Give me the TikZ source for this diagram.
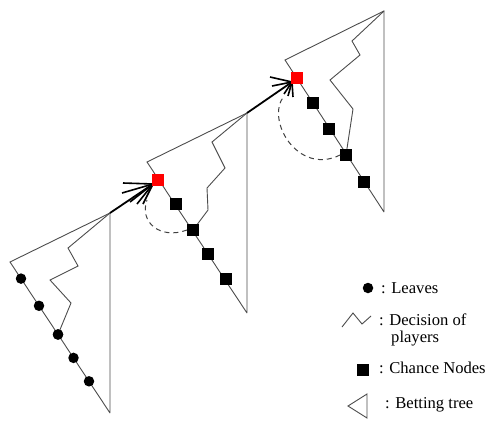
\documentclass[tikz,border=0pt]{standalone}
\usepackage{fontspec}
\setmainfont{Liberation Serif}
\usetikzlibrary{calc}
\begin{document}
\begin{tikzpicture}[x=1pt,y=-1pt,
  thin line/.style={draw=black!70,line width=0.9pt,line join=miter},
  thick arrow/.style={draw=black,line width=1.8pt},
  fan/.style={draw=black,line width=1.6pt},
  leaf/.style={circle,fill=black,inner sep=0pt,minimum size=10.5pt},
  chance/.style={rectangle,fill=black,inner sep=0pt,minimum size=11.5pt},
  red node/.style={rectangle,fill=red,inner sep=0pt,minimum size=12pt},
  dashline/.style={draw=black!75,line width=1pt,dash pattern=on 5pt off 4pt},
  legtext/.style={anchor=west,font=\fontsize{16.6}{18}\selectfont,inner sep=0pt}]
\useasboundingbox (0,0) rectangle (486,423);

% ---------- Tree 1 ----------
\coordinate (A1) at (110,213);
\coordinate (L1) at (10,262);
\coordinate (B1) at (110,413);
\draw[thin line] (B1) -- (A1) -- (L1) -- (B1);
\node[leaf] (l1) at ($(L1)!0.11!(B1)$) {};
\node[leaf] (l2) at ($(L1)!0.29!(B1)$) {};
\node[leaf] (l3) at ($(L1)!0.48!(B1)$) {};
\node[leaf] (l4) at ($(L1)!0.635!(B1)$) {};
\node[leaf] (l5) at ($(L1)!0.79!(B1)$) {};
\draw[thin line] (A1) -- (68,248) -- (78,266) -- (50,280) -- (71,303) -- (l3.center);
\node[leaf] at (l3) {};

% ---------- Tree 2 ----------
\coordinate (A2) at (247,113);
\coordinate (L2) at (147,162);
\coordinate (B2) at (247,313);
\draw[thin line] (B2) -- (A2) -- (L2) -- (B2);
\node[chance] (c21) at (176,204) {};
\node[chance] (c22) at (193,230) {};
\node[chance] (c23) at (208,254) {};
\node[chance] (c24) at (226,279) {};
\draw[thin line] (A2) -- (212,142) -- (225,168) -- (207,188) -- (208,210) -- (c22.center);
\node[chance] at (c22) {};
\draw[dashline] (c22.west) .. controls (160,240) and (139,222) .. (147,200);

% fan and thick arrow into tree 2
\coordinate (F2) at (153,184);
\draw[thick arrow] (A1) -- (F2);
\draw[fan] (F2) -- (123,183);
\draw[fan] (F2) -- (122,193);
\draw[fan] (F2) -- (130,202);
\draw[fan] (F2) -- (137,204);
\draw[fan] (F2) -- (143,204);
\node[red node] (r2) at (158,180) {};

% ---------- Tree 3 ----------
\coordinate (A3) at (384,11);
\coordinate (L3) at (285,60);
\coordinate (B3) at (384,212);
\draw[thin line] (B3) -- (A3) -- (L3) -- (B3);
\node[chance] (c31) at (313,103) {};
\node[chance] (c32) at (329,129) {};
\node[chance] (c33) at (346,155) {};
\node[chance] (c34) at (364,182) {};
\draw[thin line] (A3) -- (352,41) -- (360,55) -- (330,80) -- (353,109) -- (c33.center);
\node[chance] at (c33) {};
\draw[dashline] (c33.west) .. controls (298,176) and (265,120) .. (284,96);

% fan and thick arrow into tree 3
\coordinate (F3) at (292,82);
\draw[thick arrow] (A2) -- (F3);
\draw[fan] (F3) -- (270,77);
\draw[fan] (F3) -- (272,86);
\draw[fan] (F3) -- (284,94);
\draw[fan] (F3) -- (288,96);
\draw[fan] (F3) -- (293,97);
\node[red node] (r3) at (297,78) {};

% ---------- Legend ----------
\node[leaf] (kleaf) at (368,288) {};
\node[legtext] (tleaf) at (381,288) {: Leaves};
\draw[thin line] (342,327) -- (353,313) -- (362,324) -- (371,316);
\node[legtext,align=left,anchor=north west] (tdec) at (379,314) {: Decision of\\[-1pt]\hspace{12pt}players};
\node[chance] (kchance) at (363,370) {};
\node[legtext] (tchance) at (379,368) {: Chance Nodes};
\draw[thin line] (367,394) -- (348,406) -- (367,418) -- cycle;
\node[legtext] (tbet) at (385,405) {: Betting tree};
\end{tikzpicture}
\end{document}
